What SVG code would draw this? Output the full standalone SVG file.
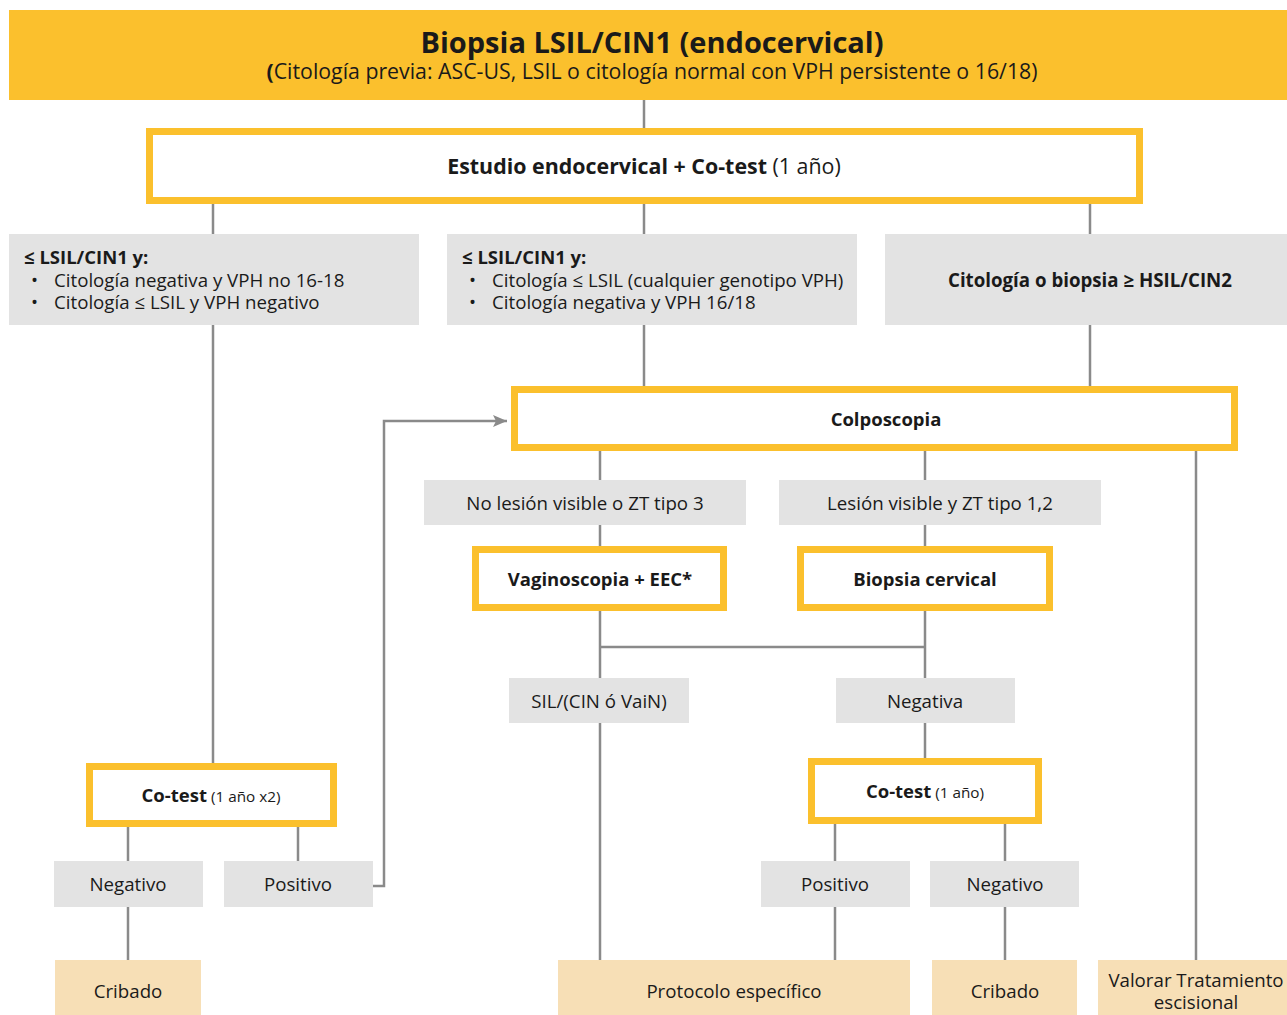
<svg xmlns="http://www.w3.org/2000/svg" width="1287" height="1015" viewBox="0 0 1287 1015">
  <style>
    text { font-family: "Open Sans", "Noto Sans", "Liberation Sans", sans-serif; fill: #1a1a1a; }
    .c { text-anchor: middle; }
    .b { font-weight: bold; }
    .step { fill: #ffffff; stroke: #FBC02D; stroke-width: 7; }
    .cond { fill: #E3E3E3; }
    .end { fill: #F7DFB6; }
    .t18 { font-size: 18.7px; }
    .t17 { font-size: 18.5px; }
    .wire { fill: none; stroke: #8a8a8a; stroke-width: 2.5; }
  </style>
  <defs>
    <marker id="arrow" viewBox="0 0 14 12" refX="14" refY="6" markerWidth="14" markerHeight="12" markerUnits="userSpaceOnUse" orient="auto">
      <path d="M0,0 L14,6 L0,12 L3,6 Z" fill="#8a8a8a"/>
    </marker>
  </defs>
  <rect width="1287" height="1015" fill="#ffffff"/>

  <g id="connectors" class="wire">
    <path d="M644,100 V131"/>
    <path d="M213,200 V234"/>
    <path d="M644,200 V234"/>
    <path d="M1090,200 V234"/>
    <path d="M213,325 V766"/>
    <path d="M644,325 V389"/>
    <path d="M1090,325 V389"/>
    <path d="M600,448 V480"/>
    <path d="M925,448 V480"/>
    <path d="M1196,448 V960"/>
    <path d="M600,525 V549"/>
    <path d="M925,525 V549"/>
    <path d="M600,608 V678"/>
    <path d="M925,608 V678"/>
    <path d="M600,647 H925"/>
    <path d="M600,723 V960"/>
    <path d="M925,723 V761"/>
    <path d="M835,821 V861"/>
    <path d="M1005,821 V861"/>
    <path d="M835,907 V960"/>
    <path d="M1005,907 V960"/>
    <path d="M128,824 V861"/>
    <path d="M298,824 V861"/>
    <path d="M128,907 V960"/>
    <path d="M373,886 H384 V421 H507" marker-end="url(#arrow)"/>
  </g>

  <g id="header">
    <rect x="9" y="10" width="1278" height="90" fill="#FBC02D"/>
    <text x="652" y="53" class="c b" font-size="29">Biopsia LSIL/CIN1 (endocervical)</text>
    <text x="652" y="79" class="c" font-size="21.3"><tspan class="b">(</tspan>Citología previa: ASC-US, LSIL o citología normal con VPH persistente o 16/18)</text>
  </g>

  <g id="estudio">
    <rect x="149.5" y="131.5" width="990" height="69" class="step"/>
    <text x="644" y="174" class="c" font-size="21.4"><tspan class="b">Estudio endocervical + Co-test</tspan> (1 año)</text>
  </g>

  <g id="cond-bajo">
    <rect x="9" y="234" width="410" height="91" class="cond"/>
    <text x="24" y="264" class="b t17">≤ LSIL/CIN1 y:</text>
    <text x="31" y="287" class="t18">•<tspan x="54">Citología negativa y VPH no 16-18</tspan></text>
    <text x="31" y="309" class="t18">•<tspan x="54">Citología ≤ LSIL y VPH negativo</tspan></text>
  </g>

  <g id="cond-medio">
    <rect x="447" y="234" width="410" height="91" class="cond"/>
    <text x="462" y="264" class="b t17">≤ LSIL/CIN1 y:</text>
    <text x="469" y="287" class="t18">•<tspan x="492">Citología ≤ LSIL (cualquier genotipo VPH)</tspan></text>
    <text x="469" y="309" class="t18">•<tspan x="492">Citología negativa y VPH 16/18</tspan></text>
  </g>

  <g id="cond-alto">
    <rect x="885" y="234" width="402" height="91" class="cond"/>
    <text x="1090" y="287" class="c b t18">Citología o biopsia ≥ HSIL/CIN2</text>
  </g>

  <g id="colposcopia">
    <rect x="514.5" y="389.5" width="720" height="58" class="step"/>
    <text x="886" y="426" class="c b t17">Colposcopia</text>
  </g>

  <g id="no-lesion">
    <rect x="424" y="480" width="322" height="45" class="cond"/>
    <text x="585" y="510" class="c t18">No lesión visible o ZT tipo 3</text>
  </g>

  <g id="lesion">
    <rect x="779" y="480" width="322" height="45" class="cond"/>
    <text x="940" y="510" class="c t18">Lesión visible y ZT tipo 1,2</text>
  </g>

  <g id="vaginoscopia">
    <rect x="475.5" y="549.5" width="248" height="58" class="step"/>
    <text x="600" y="586" class="c b t17">Vaginoscopia + EEC*</text>
  </g>

  <g id="biopsia-cervical">
    <rect x="800.5" y="549.5" width="249" height="58" class="step"/>
    <text x="925" y="586" class="c b t17">Biopsia cervical</text>
  </g>

  <g id="sil">
    <rect x="509" y="678" width="180" height="45" class="cond"/>
    <text x="599" y="708" class="c t18">SIL/(CIN ó VaiN)</text>
  </g>

  <g id="negativa">
    <rect x="836" y="678" width="179" height="45" class="cond"/>
    <text x="925" y="708" class="c t18">Negativa</text>
  </g>

  <g id="cotest-1">
    <rect x="811.5" y="761.5" width="227" height="59" class="step"/>
    <text x="925" y="798" class="c t17"><tspan class="b">Co-test</tspan><tspan font-size="15.3"> (1 año)</tspan></text>
  </g>

  <g id="positivo-der">
    <rect x="761" y="861" width="149" height="46" class="cond"/>
    <text x="835" y="891" class="c t18">Positivo</text>
  </g>

  <g id="negativo-der">
    <rect x="930" y="861" width="149" height="46" class="cond"/>
    <text x="1005" y="891" class="c t18">Negativo</text>
  </g>

  <g id="protocolo">
    <rect x="558" y="960" width="352" height="55" class="end"/>
    <text x="734" y="998" class="c t18">Protocolo específico</text>
  </g>

  <g id="cribado-der">
    <rect x="932" y="960" width="145" height="55" class="end"/>
    <text x="1005" y="998" class="c t18">Cribado</text>
  </g>

  <g id="valorar">
    <rect x="1098" y="960" width="189" height="55" class="end"/>
    <text x="1196" y="987" class="c t18">Valorar Tratamiento</text>
    <text x="1196" y="1009" class="c t18">escisional</text>
  </g>

  <g id="cotest-x2">
    <rect x="89.5" y="766.5" width="244" height="57" class="step"/>
    <text x="211" y="802" class="c t17"><tspan class="b">Co-test</tspan><tspan font-size="15.3"> (1 año x2)</tspan></text>
  </g>

  <g id="negativo-izq">
    <rect x="54" y="861" width="149" height="46" class="cond"/>
    <text x="128" y="891" class="c t18">Negativo</text>
  </g>

  <g id="positivo-izq">
    <rect x="224" y="861" width="149" height="46" class="cond"/>
    <text x="298" y="891" class="c t18">Positivo</text>
  </g>

  <g id="cribado-izq">
    <rect x="55" y="960" width="146" height="55" class="end"/>
    <text x="128" y="998" class="c t18">Cribado</text>
  </g>
</svg>
